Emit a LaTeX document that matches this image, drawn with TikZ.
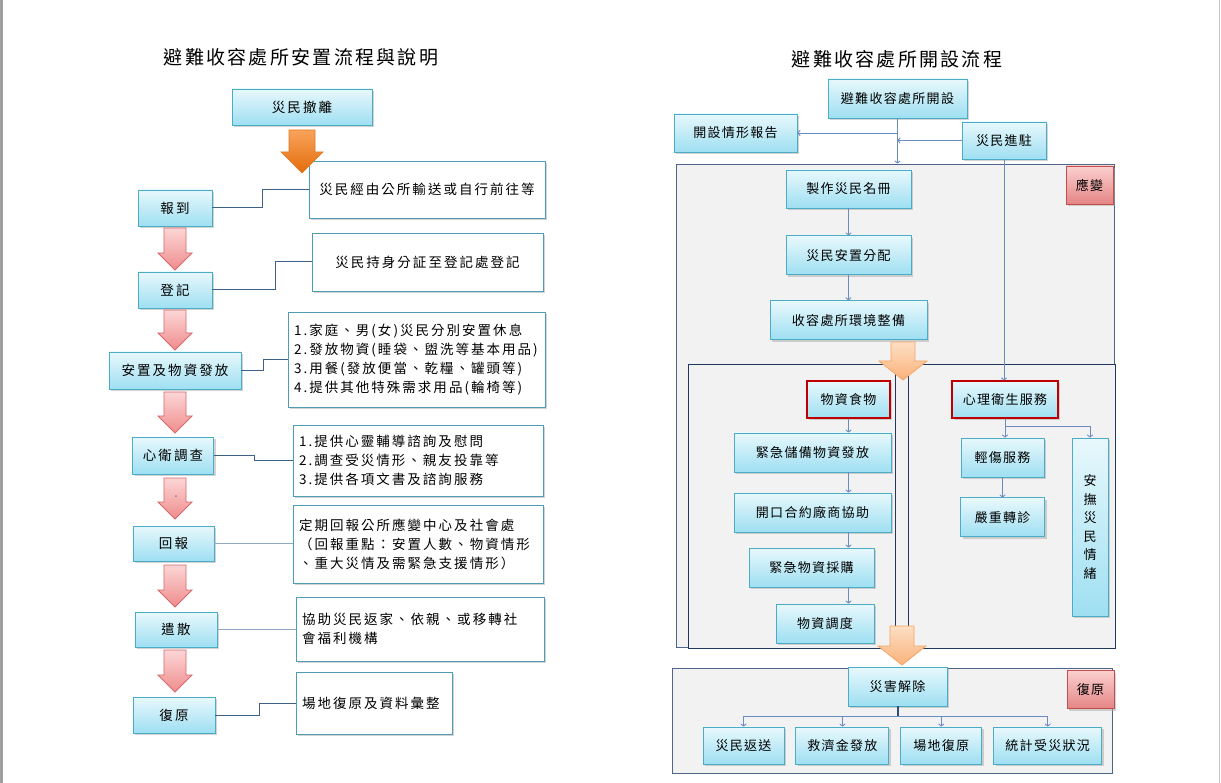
\documentclass[tikz,border=0pt]{standalone}
\usepackage{fontspec}
\setmainfont{Noto Sans CJK TC}
\newfontfamily\cjkwide{Noto Sans CJK TC}[LetterSpace=15]
\newfontfamily\cjkbox{Noto Sans CJK TC}[LetterSpace=10]
\newfontfamily\cjktitle{Noto Sans CJK TC}[LetterSpace=12]
\usepackage{tikz}
\usetikzlibrary{positioning, arrows.meta, calc, backgrounds, shadows}
\definecolor{boxtop}{HTML}{E8F8FC}
\definecolor{boxbot}{HTML}{9EDFF2}
\definecolor{boxline}{HTML}{4BACC6}
\definecolor{noteline}{HTML}{4E9DB5}
\definecolor{shadowgray}{HTML}{A8A8A8}
\definecolor{pinktop}{HTML}{FCD6D6}
\definecolor{pinkbot}{HTML}{F08C8C}
\definecolor{pinkline}{HTML}{D6676A}
\definecolor{orgtop}{HTML}{F9A35C}
\definecolor{orgbot}{HTML}{E36C0A}
\definecolor{orgline}{HTML}{E07A26}
\definecolor{peachtop}{HTML}{FDDFC4}
\definecolor{peachbot}{HTML}{FAB27A}
\definecolor{peachline}{HTML}{F5A566}
\definecolor{grpfill}{HTML}{F2F2F2}
\definecolor{grpline}{HTML}{22395E}
\definecolor{grpedge}{HTML}{4F6587}
\definecolor{tagtop}{HTML}{FBD0D0}
\definecolor{tagbot}{HTML}{E58585}
\definecolor{tagline}{HTML}{C0504D}
\definecolor{alertred}{HTML}{C00000}
\definecolor{linkblue}{HTML}{3E6189}
\definecolor{linklight}{HTML}{8FA8C6}
\definecolor{flowblue}{HTML}{6A8CC0}
\definecolor{hubnavy}{HTML}{2F4B7C}
\definecolor{edgegray}{HTML}{A0A0A0}
\definecolor{edgelight}{HTML}{C8C8C8}

% block arrow: style, centre x, top y, tip y, half shaft, half head, head length
\newcommand{\blockarrow}[7]{%
  \path[#1] (#2-#5,#3) -- (#2+#5,#3) -- (#2+#5,#4-#7) -- (#2+#6,#4-#7)
    -- (#2,#4) -- (#2-#6,#4-#7) -- (#2-#5,#4-#7) -- cycle;}

\begin{document}
\begin{tikzpicture}[
    x=1pt, y=-1pt,
    every node/.style={font=\cjkbox\fontsize{13}{16}\selectfont},
    stage/.style={
      rectangle, draw=boxline, line width=0.9pt,
      top color=boxtop, bottom color=boxbot,
      align=center, inner sep=0pt,
      drop shadow={shadow xshift=2pt, shadow yshift=-2pt, fill=shadowgray}
    },
    lstage/.style={stage, font=\cjkwide\fontsize{13.5}{19}\selectfont},
    alert/.style={stage, draw=alertred, line width=1.1pt},
    note/.style={
      rectangle, draw=noteline, line width=0.9pt, fill=white, align=left,
      inner xsep=6pt, inner ysep=0pt,
      font=\cjkwide\fontsize{13.5}{19}\selectfont,
      drop shadow={shadow xshift=2pt, shadow yshift=-2pt, fill=shadowgray}
    },
    tag/.style={
      rectangle, draw=tagline, line width=0.9pt,
      top color=tagtop, bottom color=tagbot, inner sep=0pt,
      minimum width=47, minimum height=38,
      drop shadow={shadow xshift=2pt, shadow yshift=-2pt, fill=shadowgray}
    },
    grp/.style={rectangle, draw=grpline, line width=1pt, fill=grpfill, inner sep=0pt},
    heading/.style={font=\cjktitle\fontsize{19}{22}\selectfont},
    link/.style={draw=linkblue, line width=1pt},
    flow/.style={-{To[length=3pt, width=6pt]}, draw=flowblue, line width=0.9pt},
    hub/.style={draw=hubnavy, line width=2pt},
    pinkarr/.style={draw=pinkline, line width=0.9pt, top color=pinktop, bottom color=pinkbot},
    orangearr/.style={draw=orgline, line width=0.6pt, top color=orgtop, bottom color=orgbot},
    peacharr/.style={draw=peachline, line width=0.8pt, top color=peachtop, bottom color=peachbot},
  ]

  \useasboundingbox (0,0) rectangle (1221,783);

  \begin{scope}[on background layer]
    \fill[white] (0,0) rectangle (1221,783);
    \node[grp, draw=grpedge, line width=0.9pt, minimum width=438, minimum height=483] (resp) at (895,405.5) {};
    \node[grp, minimum width=207, minimum height=283] (supply) at (791.5,506.5) {};
    \node[grp, minimum width=207, minimum height=283] (care) at (1011.5,506.5) {};
    \node[grp, draw=grpedge, line width=0.9pt, minimum width=440, minimum height=105] (recov) at (892,720.5) {};
  \end{scope}

  \fill[edgegray] (0,0) rectangle (3,783);
  \fill[edgelight] (1218.5,0) rectangle (1220,783);

  % titles
  \node[heading] (ltitle) at (301,57) {避難收容處所安置流程與說明};
  \node[heading] (rtitle) at (897,59) {避難收容處所開設流程};

  % left: steps
  \node[lstage, minimum width=140, minimum height=36] (evac) at (302,107) {災民撤離};
  \node[lstage, minimum width=74, minimum height=36] (arrive) at (175,208) {報到};
  \node[lstage, minimum width=74, minimum height=36] (register) at (175,290) {登記};
  \node[lstage, minimum width=132, minimum height=37] (settle) at (175,370.5) {安置及物資發放};
  \node[lstage, minimum width=81, minimum height=37] (mental) at (173,455.5) {心衛調查};
  \node[lstage, minimum width=81, minimum height=35] (feedback) at (173.5,543.5) {回報};
  \node[lstage, minimum width=82, minimum height=35] (disperse) at (176,629.5) {遣散};
  \node[lstage, minimum width=82, minimum height=36] (restore) at (174,715) {復原};

  % left: notes
  \node[note, align=center, text width=224, minimum height=57] (n1) at (427,189.5)
    {災民經由公所輸送或自行前往等};
  \node[note, align=center, text width=219, minimum height=58] (n2) at (427.5,262)
    {災民持身分証至登記處登記};
  \node[note, text width=245, minimum height=95] (n3) at (416.5,359.5)
    {1.家庭、男(女)災民分別安置休息\\2.發放物資(睡袋、盥洗等基本用品)\\3.用餐(發放便當、乾糧、罐頭等)\\4.提供其他特殊需求用品(輪椅等)};
  \node[note, text width=238, minimum height=71] (n4) at (418,460.5)
    {1.提供心靈輔導諮詢及慰問\\2.調查受災情形、親友投靠等\\3.提供各項文書及諮詢服務};
  \node[note, text width=238, minimum height=78] (n5) at (418,544)
    {定期回報公所應變中心及社會處\\（回報重點：安置人數、物資情形\\、重大災情及需緊急支援情形）};
  \node[note, text width=236, minimum height=64] (n6) at (420,629)
    {協助災民返家、依親、或移轉社\\會福利機構};
  \node[note, text width=144, minimum height=62] (n7) at (374,703)
    {場地復原及資料彙整};

  \draw[link] (arrive.east) -- ++(50,0) |- (n1.west);
  \draw[link] (register.east) -- ++(63,0) |- (n2.west);
  \draw[link] (settle.east) -- ++(22,0) |- (n3.west);
  \draw[link] (mental.east) -- ++(41,0) |- (n4.west);
  \draw[link, draw=linklight] (feedback.east) -- (feedback.east -| n5.west);
  \draw[link, draw=linklight, line width=1.6pt] (disperse.east) -- (disperse.east -| n6.west);
  \draw[link] (restore.east) -- ++(44,0) |- (n7.west);

  % right: opening
  \node[stage, minimum width=139, minimum height=39] (open) at (897.5,98.5) {避難收容處所開設};
  \node[stage, minimum width=123, minimum height=38] (status) at (735.5,133) {開設情形報告};
  \node[stage, minimum width=84, minimum height=37] (entry) at (1004,140.5) {災民進駐};

  \node[stage, minimum width=125, minimum height=38] (roster) at (848.5,189) {製作災民名冊};
  \node[stage, minimum width=125, minimum height=39, below=27pt of roster] (alloc) {災民安置分配};
  \node[stage, minimum width=157, minimum height=39, below=25pt of alloc] (prep) {收容處所環境整備};
  \node[tag] (tagresp) at (1089.5,185) {應變};

  \node[alert, minimum width=83, minimum height=37] (food) at (848.5,399.5) {物資食物};
  \node[alert, minimum width=106, minimum height=37] (psy) at (1005,399.5) {心理衛生服務};

  \node[stage, minimum width=157, minimum height=39] (stock) at (812.5,452.5) {緊急儲備物資發放};
  \node[stage, minimum width=157, minimum height=39] (vendor) at (812.5,512.5) {開口合約廠商協助};
  \node[stage, minimum width=125, minimum height=39] (buy) at (811.5,567.5) {緊急物資採購};
  \node[stage, minimum width=98, minimum height=39] (dispatch) at (825,623.5) {物資調度};

  \node[stage, minimum width=83, minimum height=39] (minor) at (1002.5,457.5) {輕傷服務};
  \node[stage, minimum width=84, minimum height=39, below=20pt of minor] (severe) {嚴重轉診};
  \node[stage, minimum width=36, minimum height=178, font=\cjkbox\fontsize{13}{18.6}\selectfont]
    (calm) at (1090,527) {安\\撫\\災\\民\\情\\緒};

  % right: recovery
  \node[stage, minimum width=99, minimum height=39] (clear) at (897.5,686.5) {災害解除};
  \node[tag] (tagrecov) at (1090.5,689.5) {復原};
  \node[stage, minimum width=81, minimum height=37] (back) at (743.5,745.5) {災民返送};
  \node[stage, minimum width=93, minimum height=37, right=11pt of back] (relief) {救濟金發放};
  \node[stage, minimum width=81, minimum height=37, right=11pt of relief] (site) {場地復原};
  \node[stage, minimum width=108, minimum height=37, right=11pt of site] (stats) {統計受災狀況};

  \draw[flow] (open.south) -- (open.south |- resp.north);
  \draw[flow] (open.south |- status.east) -- (status.east);
  \draw[flow] (entry.west) -- (open.south |- entry.west);
  \draw[flow] (entry.south) -- (entry.south |- psy.north);
  \draw[flow] (roster) -- (alloc);
  \draw[flow] (alloc) -- (prep);
  \draw[flow] (food) -- (food |- stock.north);
  \draw[flow] (stock.south -| food) -- (vendor.north -| food);
  \draw[flow] (vendor.south -| food) -- (buy.north -| food);
  \draw[flow] (buy.south -| food) -- (dispatch.north -| food);
  \draw[flow] (psy.south) -- (psy.south |- minor.north);
  \draw[flow] ($(psy.south)+(0,8)$) -| (calm.north);
  \draw[flow] (minor) -- (minor |- severe.north);
  \draw[hub] (clear.south) -- ++(0,10) coordinate (bus);
  \foreach \c in {back, relief, site, stats}
    \draw[flow] (bus) -| (\c.north);

  % block arrows
  \blockarrow{orangearr}{302}{130}{173}{13}{21}{21}
  \foreach \t/\b in {228/270, 310/350, 392/433, 478/519, 565/607, 650/692}
    {\blockarrow{pinkarr}{175}{\t}{\b}{11}{17}{17}}
  \blockarrow{peacharr}{903}{342}{380}{12}{24}{19}
  \blockarrow{peacharr}{902}{626}{665}{12}{24}{19}
  \node[font=\fontsize{7}{7}\selectfont, inner sep=0pt] (dash) at (176,497) {-};

\end{tikzpicture}
\end{document}
